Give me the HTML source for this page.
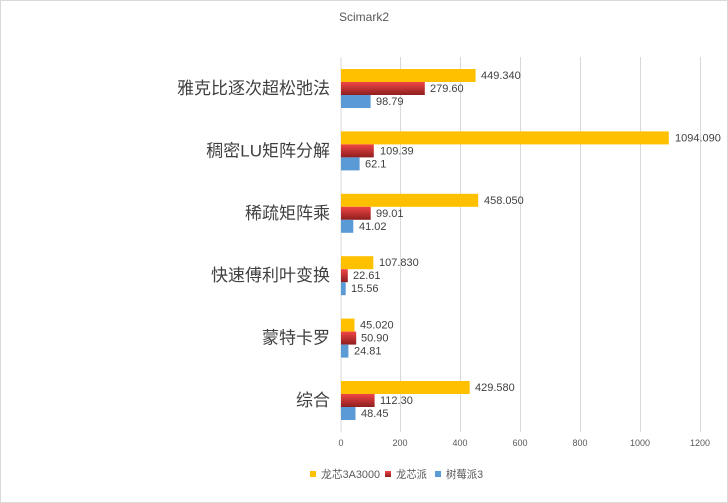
<!DOCTYPE html>
<html><head><meta charset="utf-8"><style>
body{margin:0;background:#fff}
svg{display:block;font-family:"Liberation Sans","Noto Sans CJK SC",sans-serif}
</style></head><body>
<svg width="728" height="503" viewBox="0 0 728 503">
<defs>
<linearGradient id="rg" x1="0" y1="0" x2="0" y2="1"><stop offset="0" stop-color="#f04545"/><stop offset="1" stop-color="#8e1e1e"/></linearGradient>
</defs>
<rect x="0.5" y="0.5" width="727" height="502" fill="#fff" stroke="#d9d9d9"/>
<text x="364" y="21" font-size="12" fill="#595959" text-anchor="middle">Scimark2</text>
<g stroke="#d9d9d9" stroke-width="1">
<line x1="341" y1="57" x2="341" y2="432"/><line x1="400.5" y1="57" x2="400.5" y2="432"/><line x1="460.5" y1="57" x2="460.5" y2="432"/><line x1="520.5" y1="57" x2="520.5" y2="432"/><line x1="580.5" y1="57" x2="580.5" y2="432"/><line x1="640.5" y1="57" x2="640.5" y2="432"/><line x1="700.5" y1="57" x2="700.5" y2="432"/>
</g>
<g font-size="9" fill="#595959" text-anchor="middle">
<text x="341" y="446">0</text><text x="400" y="446">200</text><text x="460" y="446">400</text><text x="520" y="446">600</text><text x="580" y="446">800</text><text x="640" y="446">1000</text><text x="700" y="446">1200</text>
</g>
<g font-size="11" fill="#404040">
<rect x="341" y="69" width="134.6" height="13" fill="#ffc000"/><text x="481" y="79">449.340</text>
<rect x="341" y="82" width="83.8" height="13" fill="url(#rg)"/><text x="430" y="92">279.60</text>
<rect x="341" y="95" width="29.6" height="13" fill="#5b9bd5"/><text x="376" y="105">98.79</text>
<rect x="341" y="131.4" width="327.8" height="13" fill="#ffc000"/><text x="675" y="141.4">1094.090</text>
<rect x="341" y="144.4" width="32.8" height="13" fill="url(#rg)"/><text x="380" y="154.4">109.39</text>
<rect x="341" y="157.4" width="18.6" height="13" fill="#5b9bd5"/><text x="365" y="167.4">62.1</text>
<rect x="341" y="193.8" width="137.2" height="13" fill="#ffc000"/><text x="484" y="203.8">458.050</text>
<rect x="341" y="206.8" width="29.7" height="13" fill="url(#rg)"/><text x="376" y="216.8">99.01</text>
<rect x="341" y="219.8" width="12.3" height="13" fill="#5b9bd5"/><text x="359" y="229.8">41.02</text>
<rect x="341" y="256.2" width="32.3" height="13" fill="#ffc000"/><text x="379" y="266.2">107.830</text>
<rect x="341" y="269.2" width="6.8" height="13" fill="url(#rg)"/><text x="353" y="279.2">22.61</text>
<rect x="341" y="282.2" width="4.7" height="13" fill="#5b9bd5"/><text x="351" y="292.2">15.56</text>
<rect x="341" y="318.6" width="13.5" height="13" fill="#ffc000"/><text x="360" y="328.6">45.020</text>
<rect x="341" y="331.6" width="15.2" height="13" fill="url(#rg)"/><text x="361" y="341.6">50.90</text>
<rect x="341" y="344.6" width="7.4" height="13" fill="#5b9bd5"/><text x="354" y="354.6">24.81</text>
<rect x="341" y="381" width="128.7" height="13" fill="#ffc000"/><text x="475" y="391">429.580</text>
<rect x="341" y="394" width="33.6" height="13" fill="url(#rg)"/><text x="380" y="404">112.30</text>
<rect x="341" y="407" width="14.5" height="13" fill="#5b9bd5"/><text x="361" y="417">48.45</text>
</g>
<g font-size="17" fill="#404040" text-anchor="end">
<text x="330" y="94">雅克比逐次超松弛法</text>
<text x="330" y="156.4">稠密LU矩阵分解</text>
<text x="330" y="218.8">稀疏矩阵乘</text>
<text x="330" y="281.2">快速傅利叶变换</text>
<text x="330" y="343.6">蒙特卡罗</text>
<text x="330" y="406">综合</text>
</g>
<g font-size="11" fill="#595959">
<rect x="310" y="471" width="6" height="6" fill="#ffc000"/><text x="321" y="478" textLength="59" lengthAdjust="spacingAndGlyphs">龙芯3A3000</text>
<rect x="385" y="471" width="6" height="6" fill="url(#rg)"/><text x="396" y="478" textLength="31" lengthAdjust="spacingAndGlyphs">龙芯派</text>
<rect x="435" y="471" width="6" height="6" fill="#5b9bd5"/><text x="446" y="478" textLength="37" lengthAdjust="spacingAndGlyphs">树莓派3</text>
</g>
</svg>
</body></html>
